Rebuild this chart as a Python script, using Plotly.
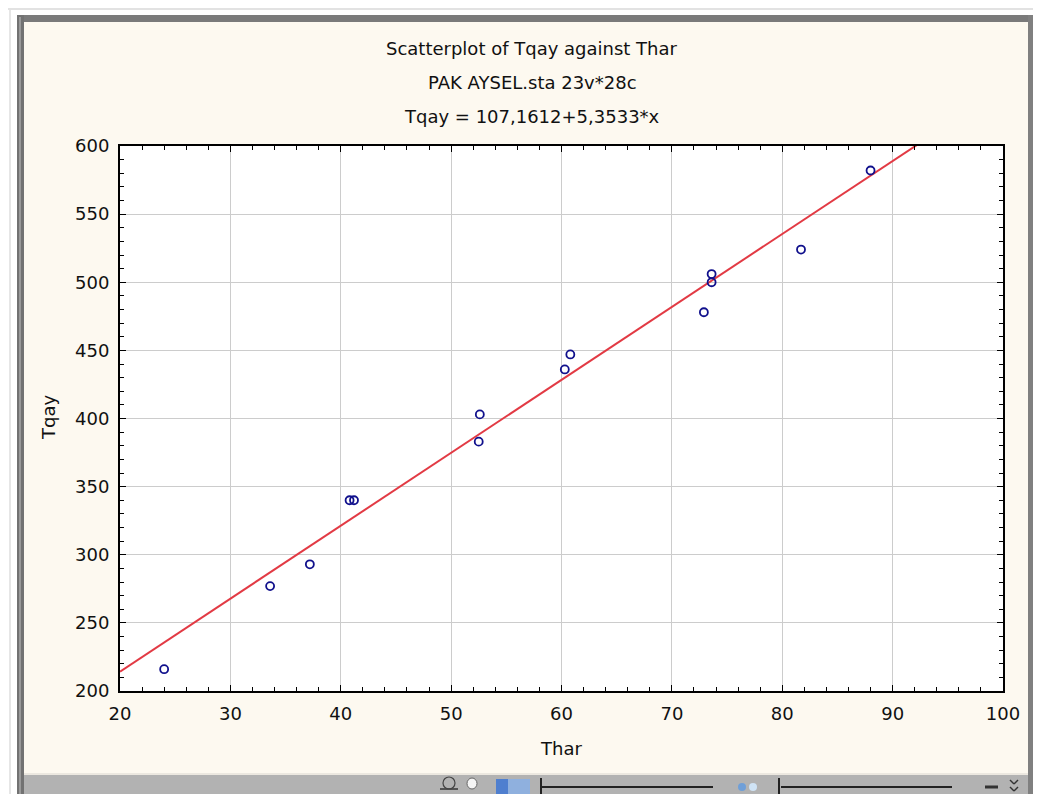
import plotly.graph_objects as go

# ---- data ----
thar = [24.0, 33.6, 37.2, 40.8, 41.2, 52.5, 52.6, 60.3, 60.8, 72.9, 73.6, 73.6, 81.7, 88.0]
tqay = [216, 277, 293, 340, 340, 383, 403, 436, 447, 478, 506, 500, 524, 582]
intercept = 107.1612
slope = 5.3533
fit_x = [20, 100]
fit_y = [intercept + slope * v for v in fit_x]

title_lines = ["Scatterplot of Tqay against Thar", "PAK AYSEL.sta 23v*28c",
               "Tqay = 107,1612+5,3533*x"]

# page body has an 8px margin: work in reference pixels, shift by OFF
OFF = 8
W, H = 1041 - OFF, 794 - OFF
L, R, T, B = 120, 1003, 146, 691   # reference pixel coords of plot box
FONT = "DejaVu Sans"


def px(x):
    return (x - L) / (R - L)


def py(y):
    return (B - y) / (B - T)


fig = go.Figure()
fig.add_trace(go.Scatter(x=fit_x, y=fit_y, mode="lines",
                         line=dict(color="#e23a44", width=2), hoverinfo="skip"))
fig.add_trace(go.Scatter(x=thar, y=tqay, mode="markers",
                         marker=dict(symbol="circle-open", size=8, color="#10108c",
                                     line=dict(width=1.8, color="#10108c"))))

shapes = []


def rect(x0, y0, x1, y1, color):
    shapes.append(dict(type="rect", xref="paper", yref="paper",
                       x0=px(x0), x1=px(x1), y0=py(y0), y1=py(y1),
                       fillcolor=color, line=dict(width=0), layer="above"))


def line(x0, y0, x1, y1, color, w):
    shapes.append(dict(type="line", xref="paper", yref="paper",
                       x0=px(x0), x1=px(x1), y0=py(y0), y1=py(y1),
                       line=dict(color=color, width=w), layer="above"))


# window chrome (reference pixel coords)
rect(0, 0, 1041, 15, "#ffffff")
rect(0, 0, 17, 794, "#ffffff")
rect(0, 8, 1041, 10, "#e2e2e2")
rect(9, 10, 11, 794, "#e6e6e6")
rect(17, 15, 1041, 22, "#7a7a7a")
rect(17, 15, 24, 794, "#727272")
rect(19, 17, 21, 794, "#9a9a9a")
rect(1028, 15, 1041, 794, "#808080")
rect(24, 775, 1028, 794, "#b2b2b2")
rect(24, 773, 1028, 775, "#ece8e0")
# toolbar widgets
rect(496, 779, 530, 794, "#8fb0de")
rect(496, 779, 508, 794, "#4f7fcf")
line(542, 787, 713, 787, "#222222", 2)
line(541, 778, 541, 794, "#222222", 2)
line(781, 787, 952, 787, "#222222", 2)
line(779, 778, 779, 794, "#222222", 2)
shapes.append(dict(type="circle", xref="paper", yref="paper",
                   x0=px(738), x1=px(746), y0=py(783), y1=py(791),
                   fillcolor="#6f9fd8", line=dict(width=0), layer="above"))
shapes.append(dict(type="circle", xref="paper", yref="paper",
                   x0=px(749), x1=px(757), y0=py(783), y1=py(791),
                   fillcolor="#cfe3f5", line=dict(width=0), layer="above"))
line(985, 787, 998, 787, "#333333", 3)
line(1010, 780, 1014, 784, "#333333", 1.5)
line(1014, 784, 1018, 780, "#333333", 1.5)
line(1010, 787, 1014, 791, "#333333", 1.5)
line(1014, 791, 1018, 787, "#333333", 1.5)
line(440, 789, 458, 789, "#333333", 1.5)
shapes.append(dict(type="circle", xref="paper", yref="paper",
                   x0=px(443), x1=px(455), y0=py(777), y1=py(789),
                   fillcolor="rgba(0,0,0,0)", line=dict(width=1.2, color="#444"), layer="above"))
shapes.append(dict(type="circle", xref="paper", yref="paper",
                   x0=px(467), x1=px(477), y0=py(778), y1=py(789),
                   fillcolor="#f4f4f4", line=dict(width=1, color="#666"), layer="above"))

annotations = []
for i, t in enumerate(title_lines):
    annotations.append(dict(text=t, xref="paper", yref="paper", x=px(532), y=py(48 + 34 * i),
                            xanchor="center", yanchor="middle", showarrow=False,
                            font=dict(family=FONT, size=18, color="#111111")))
annotations.append(dict(text="Thar", xref="paper", yref="paper", x=px(561), y=py(748),
                        xanchor="center", yanchor="middle", showarrow=False,
                        font=dict(family=FONT, size=18, color="#111111")))
annotations.append(dict(text="Tqay", xref="paper", yref="paper", x=px(48), y=py(418),
                        xanchor="center", yanchor="middle", showarrow=False, textangle=-90,
                        font=dict(family=FONT, size=18, color="#111111")))

axis_common = dict(showline=True, linecolor="#000000", linewidth=2, mirror="ticks",
                   ticks="inside", ticklen=6, tickcolor="#000000", tickwidth=1,
                   showgrid=True, gridcolor="#cccccc", gridwidth=1, zeroline=False,
                   tickfont=dict(family=FONT, size=18, color="#111111"))

fig.update_layout(
    width=W, height=H,
    margin=dict(l=L - OFF, r=1041 - R, t=T - OFF, b=794 - B),
    paper_bgcolor="#fdf9f0", plot_bgcolor="#ffffff",
    showlegend=False,
    xaxis=dict(range=[20, 100], tick0=20, dtick=10,
               minor=dict(ticks="inside", ticklen=4, dtick=2, tickcolor="#000000", showgrid=False),
               ticklabelstandoff=5, **axis_common),
    yaxis=dict(range=[200, 600], tick0=200, dtick=50,
               minor=dict(ticks="inside", ticklen=4, dtick=10, tickcolor="#000000", showgrid=False),
               ticklabelstandoff=5, **axis_common),
    shapes=shapes, annotations=annotations,
)

fig.write_html("out.html")
